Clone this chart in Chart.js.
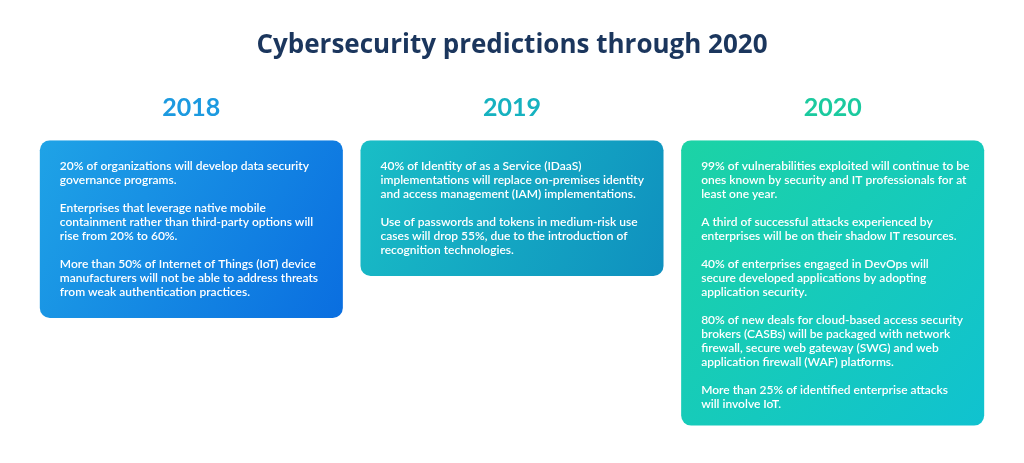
<!DOCTYPE html>
<html>
<head>
<meta charset="utf-8">
<script src="https://cdn.jsdelivr.net/npm/chart.js@4.4.0/dist/chart.umd.min.js"></script>
<style>
  html, body { margin: 0; background: #fff; }
  #wrap { width: 1024px; height: 463px; }
</style>
</head>
<body>
<div id="wrap"><canvas id="predictions"></canvas></div>
<script>
const years = ['2018', '2019', '2020'];
// how far each card runs down, in text rows
const boxDepth = [12.7, 9.7, 20.4];

const predictions2018 = [
  ['20% of organizations will develop data security', 'governance programs.'],
  ['Enterprises that leverage native mobile', 'containment rather than third-party options will', 'rise from 20% to 60%.'],
  ['More than 50% of Internet of Things (IoT) device', 'manufacturers will not be able to address threats', 'from weak authentication practices.']
];
const predictions2019 = [
  ['40% of Identity of as a Service (IDaaS)', 'implementations will replace on-premises identity', 'and access management (IAM) implementations.'],
  ['Use of passwords and tokens in medium-risk use', 'cases will drop 55%, due to the introduction of', 'recognition technologies.']
];
const predictions2020 = [
  ['99% of vulnerabilities exploited will continue to be', 'ones known by security and IT professionals for at', 'least one year.'],
  ['A third of successful attacks experienced by', 'enterprises will be on their shadow IT resources.'],
  ['40% of enterprises engaged in DevOps will', 'secure developed applications by adopting', 'application security.'],
  ['80% of new deals for cloud-based access security', 'brokers (CASBs) will be packaged with network', 'firewall, secure web gateway (SWG) and web', 'application firewall (WAF) platforms.'],
  ['More than 25% of identified enterprise attacks', 'will involve IoT.']
];
const predictions = [predictions2018, predictions2019, predictions2020];

const yearColors = ['#1c9ae0', '#16b2c0', '#1bca9f'];
const cardStops = [
  ['#1fa3e6', '#0a6ee0'],
  ['#19bec6', '#0f90bf'],
  ['#1cd3a5', '#10c2d0']
];

const BAR_PCT = 0.945;

function cardGradient(ctx) {
  const chart = ctx.chart;
  const i = ctx.dataIndex;
  if (!chart.chartArea || !chart.scales.x) return cardStops[i][0];
  const xs = chart.scales.x, ys = chart.scales.y;
  const cx = xs.getPixelForValue(i);
  const half = xs.width / years.length * BAR_PCT / 2;
  const top = ys.getPixelForValue(0);
  const bottom = ys.getPixelForValue(boxDepth[i]);
  const g = chart.ctx.createLinearGradient(cx - half, top, cx + half, bottom);
  g.addColorStop(0, cardStops[i][0]);
  g.addColorStop(1, cardStops[i][1]);
  return g;
}

const cardText = {
  id: 'cardText',
  afterDatasetsDraw(chart) {
    const c = chart.ctx;
    const meta = chart.getDatasetMeta(0);
    c.save();
    c.fillStyle = '#ffffff';
    c.font = '600 12px Lato, "Open Sans", sans-serif';
    c.textBaseline = 'middle';
    c.textAlign = 'left';
    meta.data.forEach((bar, i) => {
      const left = bar.x - bar.width / 2 + 20;
      let y = Math.min(bar.y, bar.base) + 26;
      predictions[i].forEach(par => {
        par.forEach(line => {
          c.fillText(line, left, y);
          y += 14;
        });
        y += 14;
      });
    });
    c.restore();
  }
};

new Chart(document.getElementById('predictions'), {
  type: 'bar',
  data: {
    labels: years,
    datasets: [{
      data: boxDepth.map(d => [0, d]),
      backgroundColor: cardGradient,
      borderRadius: 10,
      borderSkipped: false,
      borderWidth: 0,
      barPercentage: BAR_PCT,
      categoryPercentage: 1
    }]
  },
  options: {
    responsive: true,
    maintainAspectRatio: false,
    animation: false,
    events: [],
    layout: { padding: { left: 31, right: 31, top: 0, bottom: 15 } },
    scales: {
      x: {
        position: 'top',
        grid: { display: false, drawTicks: false },
        border: { display: false },
        ticks: {
          padding: 17,
          color: yearColors,
          font: { family: 'Lato', weight: 'bold', size: 25 }
        }
      },
      y: {
        display: false,
        reverse: true,
        min: 0,
        max: 22
      }
    },
    plugins: {
      legend: { display: false },
      tooltip: { enabled: false },
      title: {
        display: true,
        text: 'Cybersecurity predictions through 2020',
        color: '#1b365d',
        font: { family: 'Open Sans', weight: 'bold', size: 26 },
        padding: { top: 30, bottom: 15 }
      }
    }
  },
  plugins: [cardText]
});
</script>
</body>
</html>
